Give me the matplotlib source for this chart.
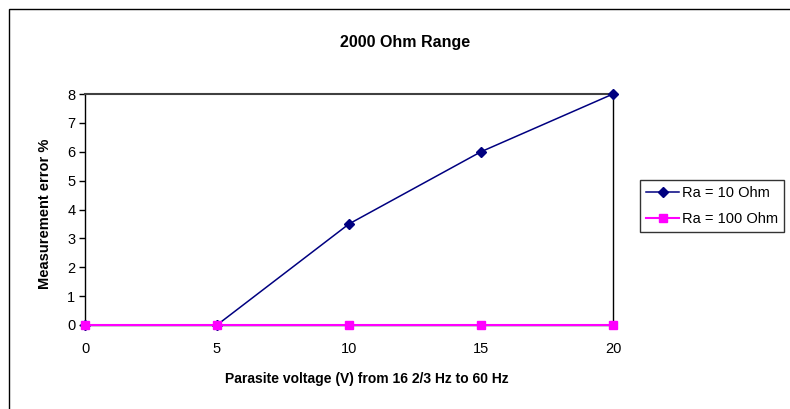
import matplotlib
matplotlib.use("Agg")
import matplotlib.pyplot as plt
from matplotlib.patches import Rectangle

# parasite voltage steps and measured error in percent
voltage = [0, 5, 10, 15, 20]
err_ra10 = [0, 0, 3.5, 6, 8]
err_ra100 = [0, 0, 0, 0, 0]
y_ticks = [0, 1, 2, 3, 4, 5, 6, 7, 8]

plt.rcParams['font.family'] = ['Liberation Sans', 'DejaVu Sans']

W, H = 790, 409
fig = plt.figure(figsize=(W / 100, H / 100), dpi=100)

# outer chart frame (runs off the right and bottom edges)
fig.patches.append(Rectangle((9 / W, -0.1), 1.2, 1.1 - 9 / H, transform=fig.transFigure,
                             fill=False, edgecolor='black', linewidth=1.0))

ax = fig.add_axes([85 / W, 84 / H, 528 / W, 231 / H])

ax.plot(voltage, err_ra10, color='#000080', lw=1.1, marker='D', ms=5.5,
        label='Ra = 10 Ohm', clip_on=False, zorder=3)
ax.plot(voltage, err_ra100, color='#FF00FF', lw=1.5, marker='s', ms=6,
        label='Ra = 100 Ohm', clip_on=False, zorder=4)

ax.set_xlim(0, 20)
ax.set_ylim(0, 8)
ax.set_xticks(voltage)
ax.set_yticks(y_ticks)
ax.tick_params(axis='y', direction='out', length=4, width=1, labelsize=10.5, pad=3)
ax.tick_params(axis='x', length=0, labelsize=10.5, pad=12)

for side in ['left', 'bottom', 'right']:
    ax.spines[side].set_color('black')
    ax.spines[side].set_linewidth(1.0)
ax.spines['top'].set_color('#404040')
ax.spines['top'].set_linewidth(1.5)

fig.text(405 / W, 1 - 43 / H, '2000 Ohm Range', ha='center', va='center',
         fontsize=11.5, fontweight='bold')
fig.text(367 / W, 1 - 379 / H, 'Parasite voltage (V) from 16 2/3 Hz to 60 Hz',
         ha='center', va='center', fontsize=10, fontweight='bold')
fig.text(45 / W, 1 - 214 / H, 'Measurement error %', ha='center', va='center',
         rotation=90, fontsize=10.5, fontweight='bold')

leg = fig.legend(loc='upper left', bbox_to_anchor=(640 / W, 1 - 180 / H),
                 bbox_transform=fig.transFigure, fontsize=10.5, frameon=True,
                 fancybox=False, handlelength=2.3, borderpad=0.4,
                 labelspacing=0.85, handletextpad=0.2, borderaxespad=0)
leg.get_frame().set_edgecolor('black')
leg.get_frame().set_linewidth(1.0)

fig.savefig('out.png', dpi=100)
